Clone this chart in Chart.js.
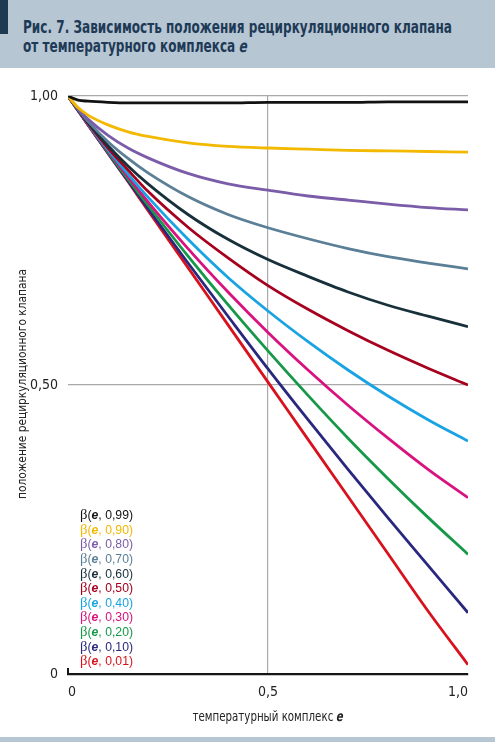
<!DOCTYPE html>
<html><head><meta charset="utf-8">
<script src="https://cdn.jsdelivr.net/npm/chart.js@4.4.1/dist/chart.umd.min.js"></script>
<style>
html,body{margin:0;padding:0;background:#fff;}
#wrap{position:relative;width:495px;height:742px;overflow:hidden;font-family:"Liberation Sans Narrow","DejaVu Sans Condensed","Roboto Condensed","Liberation Sans",Arial,sans-serif;}
#c{position:absolute;left:0;top:0;}
#hdr{position:absolute;left:0;top:0;width:495px;height:68px;background:#b6c6d3;}
#bar{position:absolute;left:0;top:0;width:8px;height:34px;background:#1e3a52;}
.tl{position:absolute;left:23px;font-weight:bold;font-size:17px;line-height:17px;color:#1e3a56;white-space:nowrap;transform-origin:0 0;}
.sk{display:inline-block;transform:skewX(-14deg);}
#foot{position:absolute;left:0;top:737px;width:495px;height:5px;background:#b6c6d3;}
#ytitle{position:absolute;left:22px;top:384px;font-size:13px;line-height:14px;color:#222;white-space:nowrap;}
#xtitle{position:absolute;left:268px;top:716px;font-size:14px;line-height:16px;color:#222;white-space:nowrap;}
#legend{position:absolute;left:80px;top:507px;font-family:"Liberation Sans",Arial,sans-serif;font-size:12.5px;}
.lg{height:14.64px;line-height:14.64px;white-space:nowrap;}
.lg .b{font-family:"Liberation Serif","DejaVu Serif",serif;font-size:15px;}
.lg i{font-weight:bold;}
</style></head>
<body><div id="wrap">
<canvas id="c" width="495" height="742"></canvas>
<div id="hdr"><div id="bar"></div>
<div class="tl" id="t1" style="top:19px">Рис. 7. Зависимость положения рециркуляционного клапана</div>
<div class="tl" id="t2" style="top:38px">от температурного комплекса <span class="sk">е</span></div>
</div>
<div id="ytitle">положение рециркуляционного клапана</div>
<div id="xtitle">температурный комплекс <b><span class="sk">e</span></b></div>
<div id="legend"></div>
<div id="foot"></div>
</div>
<script>
// ---- data ----
const eValues = [0, 0.025, 0.05, 0.1, 0.15, 0.2, 0.3, 0.4, 0.5, 0.6, 0.7, 0.8, 0.9, 1.0];
const beta099 = [1, 0.993, 0.991, 0.989, 0.988, 0.988, 0.988, 0.988, 0.989, 0.989, 0.989, 0.990, 0.990, 0.990];
const beta090 = [1, 0.980, 0.967, 0.950, 0.938, 0.930, 0.919, 0.913, 0.910, 0.908, 0.906, 0.905, 0.904, 0.903];
const beta080 = [1, 0.978, 0.960, 0.932, 0.910, 0.893, 0.866, 0.848, 0.837, 0.827, 0.820, 0.813, 0.807, 0.803];
const beta070 = [1, 0.977, 0.956, 0.921, 0.892, 0.867, 0.826, 0.795, 0.772, 0.753, 0.736, 0.722, 0.711, 0.701];
const beta060 = [1, 0.976, 0.954, 0.914, 0.879, 0.848, 0.795, 0.752, 0.717, 0.688, 0.661, 0.638, 0.619, 0.601];
const beta050 = [1, 0.976, 0.953, 0.910, 0.872, 0.835, 0.773, 0.720, 0.672, 0.631, 0.594, 0.560, 0.529, 0.500];
const beta040 = [1, 0.976, 0.952, 0.907, 0.865, 0.825, 0.752, 0.686, 0.628, 0.575, 0.526, 0.481, 0.440, 0.403];
const beta030 = [1, 0.975, 0.951, 0.905, 0.860, 0.817, 0.736, 0.661, 0.591, 0.526, 0.465, 0.408, 0.354, 0.305];
const beta020 = [1, 0.975, 0.951, 0.903, 0.856, 0.811, 0.723, 0.639, 0.559, 0.482, 0.408, 0.338, 0.271, 0.207];
const beta010 = [1, 0.975, 0.950, 0.901, 0.853, 0.805, 0.711, 0.619, 0.528, 0.440, 0.354, 0.270, 0.188, 0.106];
const beta001 = [1, 0.975, 0.950, 0.901, 0.852, 0.802, 0.703, 0.604, 0.505, 0.406, 0.307, 0.208, 0.109, 0.016];
const seriesNames = ['0,99','0,90','0,80','0,70','0,60','0,50','0,40','0,30','0,20','0,10','0,01'];
const seriesValues = [beta099, beta090, beta080, beta070, beta060, beta050, beta040, beta030, beta020, beta010, beta001];
const xTickLabels = {0: '0', 0.5: '0,5', 1: '1,0'};
const yTickLabels = {0: '0', 0.5: '0,50', 1: '1,00'};

// ---- styles ----
const seriesColors = ['#121212','#f3b800','#7a5ca8','#5a7f96','#17303a','#a6001e','#1aa3e2','#d8127e','#169848','#29287e','#d8121c'];
const tickFont = {family:'"Liberation Sans Narrow","DejaVu Sans Condensed","Liberation Sans",Arial,sans-serif', size:14};

const datasets = seriesValues.map((vals, i) => ({
  label: seriesNames[i],
  data: eValues.map((x, j) => ({x: x, y: vals[j]})),
  borderColor: seriesColors[i],
  backgroundColor: seriesColors[i],
  borderWidth: 2.8,
  pointRadius: 0,
  fill: false,
  cubicInterpolationMode: 'monotone'
}));

// small vertical tick at the origin of the x axis
const originTick = {
  id: 'originTick',
  afterDraw(chart) {
    const {ctx, chartArea} = chart;
    ctx.save();
    ctx.strokeStyle = '#151515';
    ctx.lineWidth = 2;
    ctx.beginPath();
    ctx.moveTo(chartArea.left, chartArea.bottom);
    ctx.lineTo(chartArea.left, chartArea.bottom - 6);
    ctx.stroke();
    ctx.restore();
  }
};

new Chart(document.getElementById('c'), {
  type: 'line',
  data: {datasets: datasets},
  plugins: [originTick],
  options: {
    responsive: false,
    animation: false,
    layout: {padding: {top: 96, right: 27, left: 0, bottom: 0}},
    plugins: {legend: {display: false}, tooltip: {enabled: false}},
    scales: {
      x: {
        type: 'linear', min: 0, max: 1,
        ticks: {stepSize: 0.5, align: 'inner', padding: 10, color: '#222', font: tickFont,
          callback: v => xTickLabels[v] !== undefined ? xTickLabels[v] : ''},
        grid: {drawTicks: false, lineWidth: 1.2, color: c => (c.tick && c.tick.value === 0.5) ? '#a9a9a9' : 'rgba(0,0,0,0)'},
        border: {display: true, color: '#151515', width: 2.2},
        afterFit: s => { s.height = 68; }
      },
      y: {
        type: 'linear', min: 0, max: 1,
        ticks: {stepSize: 0.5, padding: 10, color: '#222', font: tickFont,
          callback: v => yTickLabels[v] !== undefined ? yTickLabels[v] : ''},
        grid: {drawTicks: false, lineWidth: 1.2, color: c => (c.tick && c.tick.value === 0) ? 'rgba(0,0,0,0)' : '#a9a9a9'},
        border: {display: false},
        afterFit: s => { s.width = 68; }
      }
    }
  }
});

// legend
const lg = document.getElementById('legend');
seriesNames.forEach((n, i) => {
  const d = document.createElement('div');
  d.className = 'lg';
  d.style.color = seriesColors[i];
  d.innerHTML = '<span class="b">β</span>(<i>e</i>, ' + n + ')';
  lg.appendChild(d);
});

// fit text widths
function fitW(el, w, extra) {
  const r = el.getBoundingClientRect().width;
  el.style.transform = (extra || '') + 'scaleX(' + (w / r) + ')';
}
fitW(document.getElementById('t1'), 429);
const t1k = 429 / document.getElementById('t1').scrollWidth;
document.getElementById('t2').style.transform = 'scaleX(' + t1k + ')';
const yt = document.getElementById('ytitle');
fitW(yt, 230, 'translate(-50%,-50%) rotate(-90deg) ');
const xt = document.getElementById('xtitle');
fitW(xt, 151, 'translate(-50%,-50%) ');
const lw = lg.getBoundingClientRect().width;
lg.style.transformOrigin = '0 0';
lg.style.transform = 'scaleX(' + (53 / lw) + ')';
</script>
</body></html>
